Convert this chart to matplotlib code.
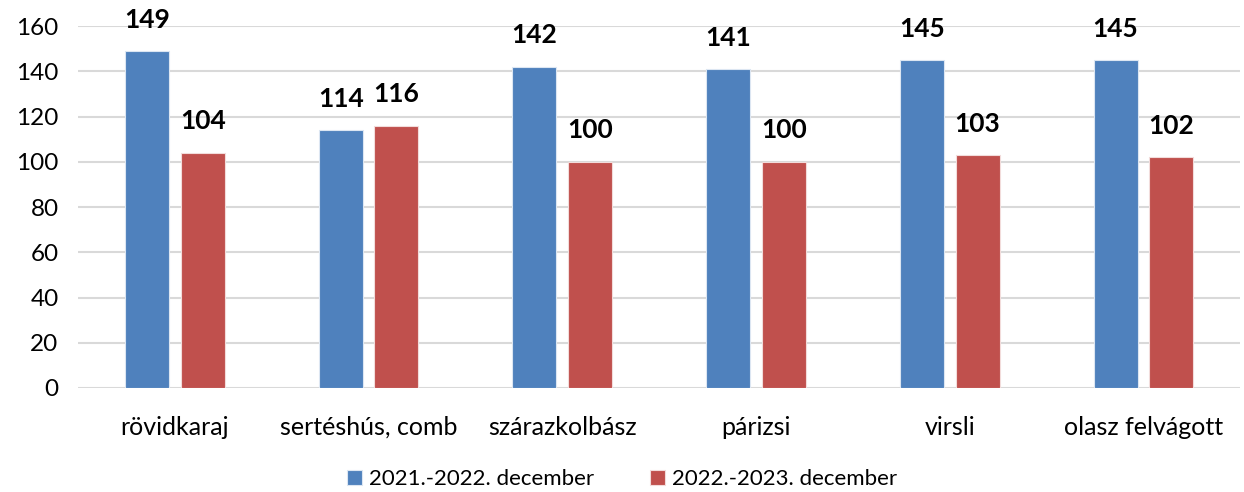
import numpy as np
import matplotlib.pyplot as plt

categories = ['rövidkaraj', 'sertéshús, comb', 'szárazkolbász', 'párizsi', 'virsli', 'olasz felvágott']
series_names = ['2021.-2022. december', '2022.-2023. december']
values_2022 = [149, 114, 142, 141, 145, 145]
values_2023 = [104, 116, 100, 100, 103, 102]
yticks = [0, 20, 40, 60, 80, 100, 120, 140, 160]

plt.rcParams['font.family'] = ['Lato', 'DejaVu Sans']

fig = plt.figure(figsize=(12.44, 4.92), dpi=100)
ax = fig.add_axes([0.0627, 0.2114, 0.9343, 0.7356])

x = np.arange(len(categories))
w = 0.227
off = 0.144
b1 = ax.bar(x - off, values_2022, w, color='#4F81BD', edgecolor='#DCE6F2', linewidth=0.8,
            label=series_names[0], zorder=3)
b2 = ax.bar(x + off, values_2023, w, color='#C0504D', edgecolor='#F2DCDB', linewidth=0.8,
            label=series_names[1], zorder=3)

for bars in (b1, b2):
    ax.bar_label(bars, padding=14, fontsize=19, fontweight='bold')

ax.set_xlim(-0.5, len(categories) - 0.5)
ax.set_ylim(0, 160)
ax.set_yticks(yticks)
ax.set_xticks(x)
ax.set_xticklabels(categories, fontsize=18)
ax.tick_params(axis='y', labelsize=17.5)
ax.tick_params(axis='both', length=0)
ax.tick_params(axis='x', pad=20)
ax.tick_params(axis='y', pad=14)
ax.grid(axis='y', color='#D9D9D9', linewidth=1.5, zorder=0)
for s in ax.spines.values():
    s.set_visible(False)

fig.legend(loc='lower center', bbox_to_anchor=(0.5, -0.035), ncol=2, frameon=False,
           fontsize=16, handlelength=0.7, handleheight=0.7, columnspacing=2.5, handletextpad=0.3)

fig.savefig('out.png', dpi=100)
